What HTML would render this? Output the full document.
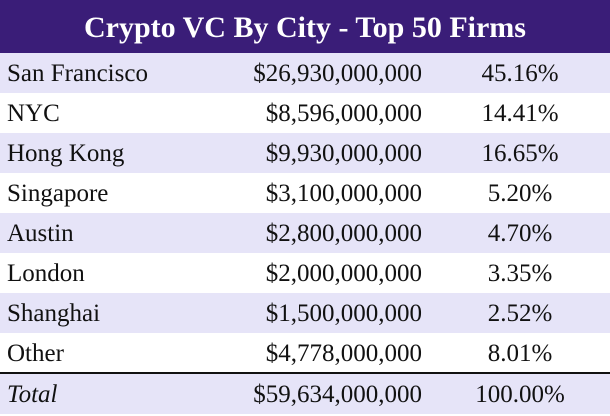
<!DOCTYPE html>
<html><head><style>
body{margin:0;width:610px;height:414px;overflow:hidden;background:#fff;font-family:"Liberation Serif",serif;}
.h{position:absolute;left:0;top:0;width:610px;height:53px;background:#3a1d78;color:#fff;font-weight:bold;font-size:30px;text-align:center;line-height:55px;}
.r{position:absolute;left:0;width:610px;height:40px;font-size:25px;line-height:42px;color:#111;}
.l{background:#e6e4f8;}
.c{position:absolute;left:7px;}
.a{position:absolute;right:188px;}
.p{position:absolute;left:455px;width:130px;text-align:center;}
.ln{position:absolute;left:0;top:372px;width:610px;height:2px;background:#111;}
</style></head><body>
<div class="h">Crypto VC By City - Top 50 Firms</div>
<div class="r l" style="top:53px"><span class="c">San Francisco</span><span class="a">$26,930,000,000</span><span class="p">45.16%</span></div>
<div class="r" style="top:93px"><span class="c">NYC</span><span class="a">$8,596,000,000</span><span class="p">14.41%</span></div>
<div class="r l" style="top:133px"><span class="c">Hong Kong</span><span class="a">$9,930,000,000</span><span class="p">16.65%</span></div>
<div class="r" style="top:173px"><span class="c">Singapore</span><span class="a">$3,100,000,000</span><span class="p">5.20%</span></div>
<div class="r l" style="top:213px"><span class="c">Austin</span><span class="a">$2,800,000,000</span><span class="p">4.70%</span></div>
<div class="r" style="top:253px"><span class="c">London</span><span class="a">$2,000,000,000</span><span class="p">3.35%</span></div>
<div class="r l" style="top:293px"><span class="c">Shanghai</span><span class="a">$1,500,000,000</span><span class="p">2.52%</span></div>
<div class="r" style="top:333px"><span class="c">Other</span><span class="a">$4,778,000,000</span><span class="p">8.01%</span></div>
<div class="ln"></div>
<div class="r l" style="top:374px"><span class="c" style="font-style:italic">Total</span><span class="a">$59,634,000,000</span><span class="p">100.00%</span></div>
</body></html>
